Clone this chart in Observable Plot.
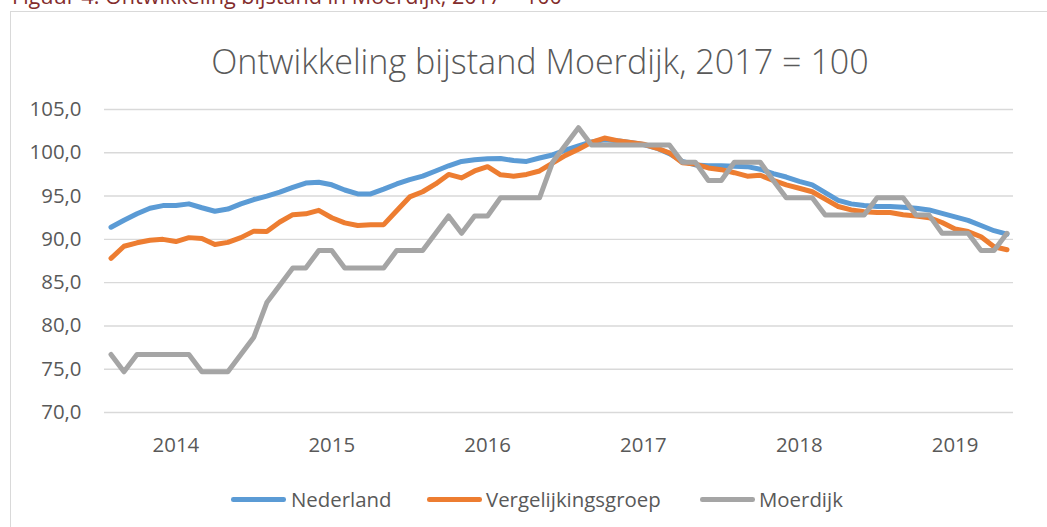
<!DOCTYPE html>
<html><head><meta charset="utf-8">
<script src="https://cdn.jsdelivr.net/npm/d3@7"></script>
<script src="https://cdn.jsdelivr.net/npm/@observablehq/plot@0.6"></script>
<style>
html,body{margin:0;padding:0;background:#fff;width:1047px;height:527px;overflow:hidden;font-family:"Open Sans",sans-serif;}
#frame{position:absolute;left:10px;top:11px;width:1100px;height:600px;border:1.4px solid #D9D9D9;box-sizing:border-box;}
.t{position:absolute;white-space:nowrap;line-height:1;font-family:"Open Sans",sans-serif;}
#chart{position:absolute;left:0;top:90px;}
</style></head><body>
<div id="caption" class="t"></div>
<div id="frame"></div>
<div id="title" class="t"></div>
<div id="chart"></div>
<div id="legend"></div>
<script>
// ---- data ----
const captionText = "Figuur 4: Ontwikkeling bijstand in Moerdijk, 2017 = 100";
const titleText = "Ontwikkeling bijstand Moerdijk, 2017 = 100";
const seriesNames = ["Nederland", "Vergelijkingsgroep", "Moerdijk"];
const seriesColors = ["#5B9BD5", "#ED7D31", "#A5A5A5"];
const yTicks = [70, 75, 80, 85, 90, 95, 100, 105];
const yearLabels = ["2014", "2015", "2016", "2017", "2018", "2019"];
const firstMonth = [2013, 8]; // monthly series, August 2013 .. May 2019

const nederland = [
  91.4, 92.2, 92.95, 93.6, 93.9, 93.9, 94.1, 93.65, 93.25, 93.5,
  94.1, 94.6, 95.0, 95.45, 96.0, 96.5, 96.6, 96.3, 95.7, 95.25,
  95.25, 95.8, 96.4, 96.9, 97.3, 97.9, 98.5, 99.0, 99.2, 99.3,
  99.35, 99.1, 99.0, 99.4, 99.75, 100.3, 100.8, 101.25, 101.5, 101.4,
  101.2, 100.95, 100.55, 99.9, 99.0, 98.6, 98.5, 98.5, 98.45, 98.4,
  98.1, 97.6, 97.2, 96.7, 96.3, 95.4, 94.5, 94.1, 93.9, 93.8,
  93.8, 93.7, 93.6, 93.4, 93.0, 92.6, 92.2, 91.6, 91.0, 90.6
];
const vergelijkingsgroep = [
  87.8, 89.2, 89.6, 89.9, 90.0, 89.75, 90.2, 90.1, 89.4, 89.65,
  90.2, 90.95, 90.9, 92.0, 92.85, 92.95, 93.35, 92.5, 91.9, 91.6,
  91.7, 91.7, 93.3, 94.9, 95.5, 96.4, 97.5, 97.1, 97.9, 98.4,
  97.45, 97.3, 97.5, 97.9, 98.8, 99.7, 100.4, 101.2, 101.7, 101.4,
  101.2, 101.0, 100.55, 100.0, 98.85, 98.7, 98.25, 98.05, 97.7, 97.3,
  97.4, 96.8, 96.3, 95.9, 95.5, 94.65, 93.8, 93.4, 93.2, 93.1,
  93.1, 92.85, 92.7, 92.5, 91.95, 91.2, 90.9, 90.3, 89.15, 88.8
];
const moerdijk = [
  76.7, 74.7, 76.7, 76.7, 76.7, 76.7, 76.7, 74.7, 74.7, 74.7,
  76.7, 78.7, 82.7, 84.7, 86.7, 86.7, 88.7, 88.7, 86.7, 86.7,
  86.7, 86.7, 88.7, 88.7, 88.7, 90.7, 92.7, 90.7, 92.7, 92.7,
  94.8, 94.8, 94.8, 94.8, 98.9, 100.9, 102.9, 100.9, 100.9, 100.9,
  100.9, 100.9, 100.9, 100.9, 98.9, 98.9, 96.8, 96.8, 98.9, 98.9,
  98.9, 96.8, 94.8, 94.8, 94.8, 92.8, 92.8, 92.8, 92.8, 94.8,
  94.8, 94.8, 92.8, 92.8, 90.7, 90.7, 90.7, 88.7, 88.7, 90.7
];
const seriesValues = [nederland, vergelijkingsgroep, moerdijk];

// ---- build table ----
const n = nederland.length;
const start = new Date(Date.UTC(firstMonth[0], firstMonth[1] - 1, 1));
const months = d3.range(n).map(i => d3.utcMonth.offset(start, i));
const rows = [];
seriesNames.forEach((s, k) => seriesValues[k].forEach((v, i) => rows.push({series: s, i, value: v})));
const tickIdx = d3.range(n).filter(i => months[i].getUTCMonth() === 0 && yearLabels.includes(String(months[i].getUTCFullYear())));
const tickLabel = i => String(months[i].getUTCFullYear());

// ---- text helpers ----
const ASC = 0.888; // baseline offset (em) for Open Sans with line-height 1
function fit(el, text, fs, target) {
  el.textContent = text;
  el.style.fontSize = fs + "px";
  const w = el.getBoundingClientRect().width;
  const f = fs * target / w;
  el.style.fontSize = f + "px";
  return f;
}
const cap = document.getElementById("caption");
cap.style.color = "#832C2C";
const fc = fit(cap, captionText, 22, 550);
cap.style.left = "12px";
cap.style.top = (4 - ASC * fc) + "px";

const ttl = document.getElementById("title");
ttl.style.color = "#595959";
ttl.style.fontWeight = "300";
const ft = fit(ttl, titleText, 33, 658);
const tw = ttl.getBoundingClientRect().width;
ttl.style.left = (540 - tw / 2) + "px";
ttl.style.top = (74 - ASC * ft) + "px";

// ---- chart ----
const FS = 20.4;
const chart = Plot.plot({
  width: 1047, height: 372,
  marginLeft: 104, marginRight: 34, marginTop: 19, marginBottom: 50,
  style: {fontFamily: '"Open Sans", sans-serif', fontSize: FS + "px", color: "#595959", background: "transparent", overflow: "visible"},
  x: {domain: [-0.5, n - 0.5]},
  y: {domain: [70, 105]},
  color: {domain: seriesNames, range: seriesColors},
  marks: [
    Plot.gridY(yTicks, {stroke: "#D9D9D9", strokeOpacity: 1, strokeWidth: 1.4}),
    Plot.axisY(yTicks, {tickSize: 0, tickPadding: 23, tickFormat: d => d.toFixed(1).replace(".", ","), label: null, fontSize: FS}),
    Plot.axisX(tickIdx, {tickSize: 0, tickPadding: 25, tickFormat: tickLabel, label: null, fontSize: FS}),
    Plot.line(rows, {x: "i", y: "value", z: "series", stroke: "series", strokeWidth: 5, strokeLinejoin: "round", strokeLinecap: "round"})
  ]
});
document.getElementById("chart").appendChild(chart);

// ---- legend ----
const legend = document.getElementById("legend");
const lineLeft = [231, 426.5, 700];
const textLeft = [291, 486, 759];
seriesNames.forEach((s, k) => {
  const ln = document.createElement("div");
  ln.style.cssText = `position:absolute;left:${lineLeft[k]}px;top:497.2px;width:55px;height:4.6px;border-radius:2.3px;background:${seriesColors[k]};`;
  legend.appendChild(ln);
  const tx = document.createElement("div");
  tx.className = "t";
  tx.textContent = s;
  tx.style.cssText += `left:${textLeft[k]}px;top:${506.7 - ASC * FS}px;font-size:${FS}px;color:#595959;`;
  legend.appendChild(tx);
});
</script>
</body></html>
